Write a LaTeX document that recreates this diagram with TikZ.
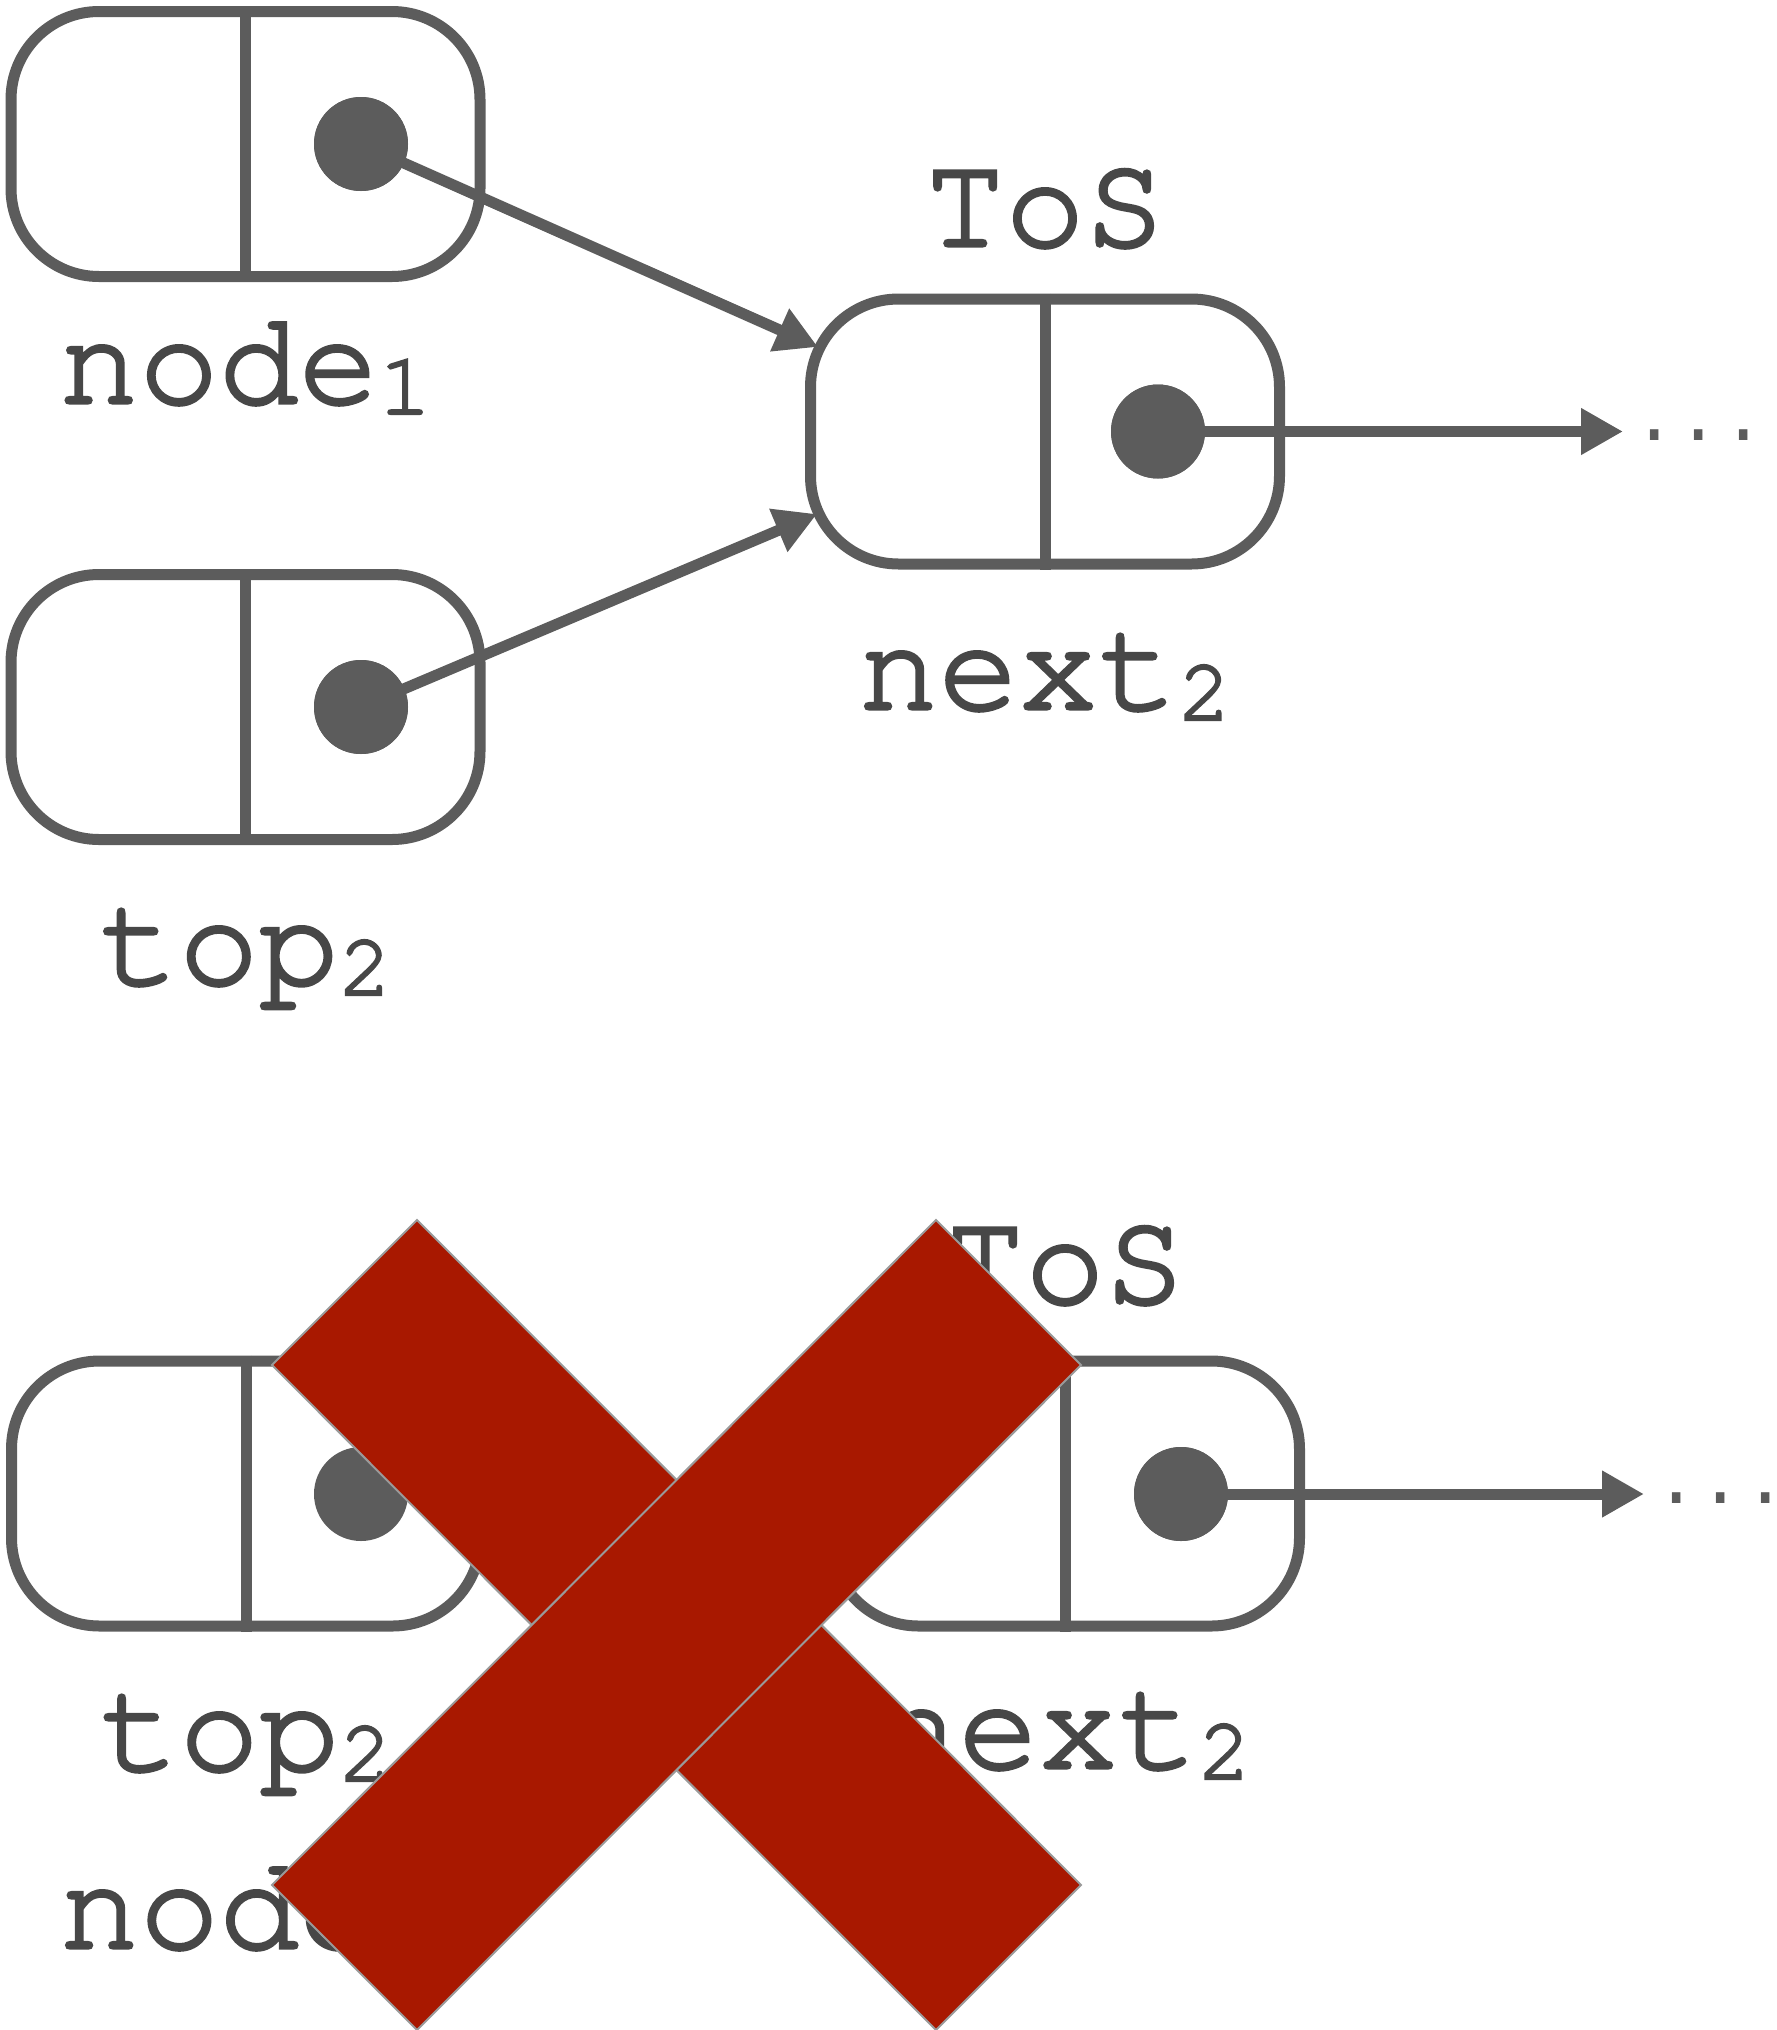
\documentclass[tikz,border=0pt]{standalone}
\usepackage{fontspec}
\usetikzlibrary{arrows.meta}
\newfontfamily\cursorfont[FakeBold=2.5]{texgyrecursor-regular.otf}
\newfontfamily\dotfont{Liberation Mono}
\definecolor{linkgray}{HTML}{5C5C5C}
\definecolor{textgray}{HTML}{474747}
\definecolor{crossred}{HTML}{A81800}
\definecolor{crossedge}{HTML}{9A9A9A}
\newcommand\subidx[1]{{\fontsize{44.5pt}{44.5pt}\selectfont\raisebox{-5.5pt}{#1}}}

\begin{document}
\begin{tikzpicture}[x=0.5pt,y=-0.5pt,
  cell/.style={draw=linkgray, line width=5.5pt, rounded corners=44pt,
    minimum width=234.5pt, minimum height=132.5pt, inner sep=0pt, fill=white},
  divider/.style={draw=linkgray, line width=5.5pt},
  ptr/.style={circle, fill=linkgray, minimum size=47pt, inner sep=0pt},
  link/.style={draw=linkgray, line width=5.5pt, -{Triangle[length=21pt,width=22pt]}},
  tag/.style={text=textgray, font=\cursorfont\fontsize{66.5pt}{70pt}\selectfont,
    anchor=base, inner sep=0pt},
  more/.style={text=linkgray, font=\dotfont\fontsize{37pt}{40pt}\selectfont,
    anchor=base west, inner sep=0pt},
  crossbar/.style={fill=crossred, draw=crossedge, line width=1pt, line join=miter}
]
\useasboundingbox (0,0) rectangle (1777,2030);

% ---------- upper stack: node_1 and top_2 both point to next_2 ----------
\node[cell] (b1) at (245.5,144) {};
\node[cell] (b2) at (1045,431.5) {};
\node[cell] (b3) at (245.5,707) {};
\foreach \b in {b1,b2,b3} \draw[divider] (\b.north) -- (\b.south);

\node[ptr] (d1) at (361,144) {};
\node[ptr] (d2) at (1158,431.5) {};
\node[ptr] (d3) at (361,707) {};

\coordinate (t1) at (818,347);
\coordinate (t2) at (817,514);
\coordinate (t3) at (1623,431.5);
\draw[link] (d1.center) -- (t1);
\draw[link] (d3.center) -- (t2);
\draw[link] (d2.center) -- (t3);
\node[ptr] at (d1) {};
\node[ptr] at (d2) {};
\node[ptr] at (d3) {};
\node[more] (m1) at (1632,440) {...\kern-8pt};

\node[tag] (l1) at (245.5,403) {node\subidx{1}};
\node[tag] (l2) at (1045,246) {ToS};
\node[tag] (l3) at (1045,709) {next\subidx{2}};
\node[tag] (l4) at (245.5,984) {top\subidx{2}};

% ---------- lower stack ----------
\node[cell] (b4) at (246,1493.5) {};
\node[cell] (b5) at (1065,1493.5) {};
\foreach \b in {b4,b5} \draw[divider] (\b.north) -- (\b.south);
\node[ptr] (d4) at (361,1494) {};
\node[ptr] (d5) at (1181,1494) {};
\coordinate (t4) at (1644,1494);
\draw[link] (d5.center) -- (t4);
\node[ptr] at (d5) {};
\node[more] (m2) at (1654,1503) {...\kern-8pt};

\node[tag] (l5) at (1065,1303) {ToS};
\node[tag] (l6) at (246,1770) {top\subidx{2}};
\node[tag] (l7) at (1065,1768) {next\subidx{2}};
\node[tag] (l8) at (246,1948) {node\subidx{1}};

% ---------- cross ----------
\path[crossbar] (272,1365) -- (417,1220) -- (1081,1885) -- (936,2030) -- cycle;
\path[crossbar] (936,1220) -- (1081,1365) -- (417,2030) -- (272,1885) -- cycle;
\end{tikzpicture}
\end{document}
